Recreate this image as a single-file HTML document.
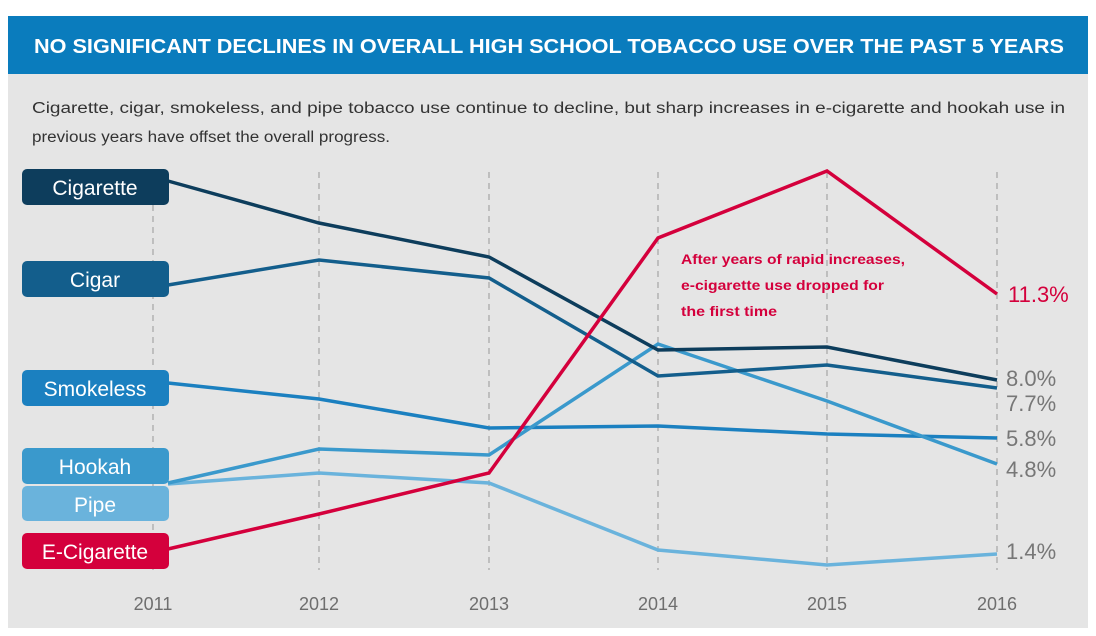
<!DOCTYPE html>
<html><head><meta charset="utf-8"><style>
html,body{margin:0;padding:0;background:#fff;width:1096px;height:636px;overflow:hidden}
svg{display:block;font-family:"Liberation Sans",sans-serif}
</style></head><body>
<svg width="1096" height="636" viewBox="0 0 1096 636">
<rect x="8" y="16" width="1080" height="612" fill="#e5e5e5"/>
<rect x="8" y="16" width="1080" height="58" fill="#0a7cbd"/>
<text x="34" y="53" fill="#fff" font-size="20" font-weight="bold" textLength="1030" lengthAdjust="spacingAndGlyphs">NO SIGNIFICANT DECLINES IN OVERALL HIGH SCHOOL TOBACCO USE OVER THE PAST 5 YEARS</text>
<text x="32" y="113" fill="#333" font-size="15.5" textLength="1033" lengthAdjust="spacingAndGlyphs">Cigarette, cigar, smokeless, and pipe tobacco use continue to decline, but sharp increases in e-cigarette and hookah use in</text>
<text x="32" y="142" fill="#333" font-size="15.5" textLength="358" lengthAdjust="spacingAndGlyphs">previous years have offset the overall progress.</text>
<g stroke="#aaa" stroke-width="1.3" stroke-dasharray="6,5">
<line x1="153" y1="172" x2="153" y2="570"/><line x1="319" y1="172" x2="319" y2="570"/><line x1="489" y1="172" x2="489" y2="570"/>
<line x1="658" y1="172" x2="658" y2="570"/><line x1="827" y1="172" x2="827" y2="570"/><line x1="997" y1="172" x2="997" y2="570"/>
</g>
<g fill="none" stroke-width="3.5" stroke-linejoin="miter">
<polyline stroke="#6ab3dc" points="168,484 319,473 489,483 658,550 827,565 997,554"/>
<polyline stroke="#1b80c0" points="168,383 319,399 489,428 658,426 827,434 997,438"/>
<polyline stroke="#3a99cc" points="168,483 319,449 489,455 658,344 827,401 997,464"/>
<polyline stroke="#135e8c" points="168,285 319,260 489,278 658,376 827,365 997,388"/>
<polyline stroke="#0d3d5c" points="168,181 319,223 489,257 658,350 827,347 997,380"/>
<polyline stroke="#d4003c" points="168,549 319,514 489,473 658,238 827,171 997,294"/>
</g>
<g font-size="21" fill="#fff" text-anchor="middle">
<rect x="22" y="169" width="147" height="36" rx="5" fill="#0d3d5c"/><text x="95" y="195">Cigarette</text>
<rect x="22" y="261" width="147" height="36" rx="5" fill="#135e8c"/><text x="95" y="287">Cigar</text>
<rect x="22" y="370" width="147" height="36" rx="5" fill="#1b80c0"/><text x="95" y="396">Smokeless</text>
<rect x="22" y="448" width="147" height="36" rx="5" fill="#3a99cc"/><text x="95" y="474">Hookah</text>
<rect x="22" y="486" width="147" height="35" rx="5" fill="#6ab3dc"/><text x="95" y="512">Pipe</text>
<rect x="22" y="533" width="147" height="36" rx="5" fill="#d4003c"/><text x="95" y="559">E-Cigarette</text>
</g>
<g font-size="13.5" font-weight="bold" fill="#d4003c">
<text x="681" y="264" textLength="224" lengthAdjust="spacingAndGlyphs">After years of rapid increases,</text>
<text x="681" y="290" textLength="203" lengthAdjust="spacingAndGlyphs">e-cigarette use dropped for</text>
<text x="681" y="316" textLength="96" lengthAdjust="spacingAndGlyphs">the first time</text>
</g>
<text x="1008" y="302" font-size="22" fill="#d4003c">11.3%</text>
<g font-size="22" fill="#777">
<text x="1006" y="386">8.0%</text><text x="1006" y="411">7.7%</text><text x="1006" y="446">5.8%</text>
<text x="1006" y="477">4.8%</text><text x="1006" y="559">1.4%</text>
</g>
<g font-size="18" fill="#6e6e6e" text-anchor="middle">
<text x="153" y="610">2011</text><text x="319" y="610">2012</text><text x="489" y="610">2013</text>
<text x="658" y="610">2014</text><text x="827" y="610">2015</text><text x="997" y="610">2016</text>
</g>
</svg>
</body></html>
